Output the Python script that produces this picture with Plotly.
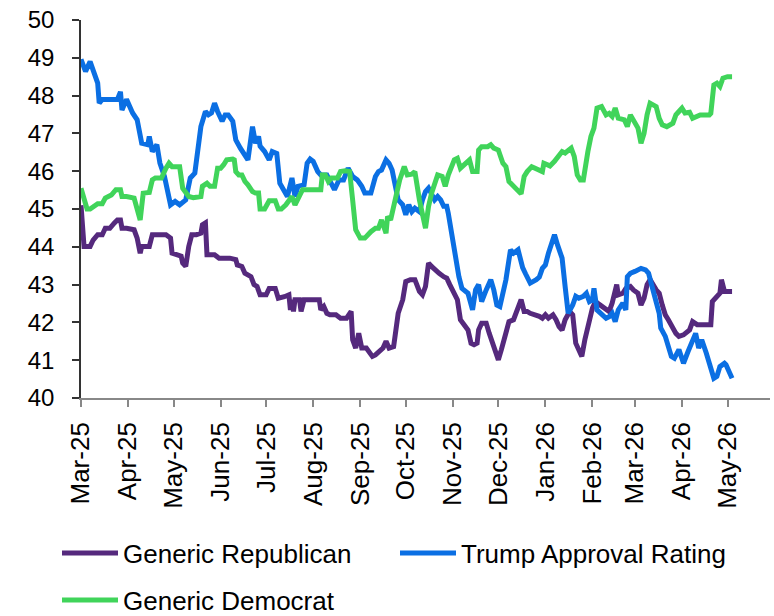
import plotly.graph_objects as go

# ---------------- data ----------------
month_ticks = ["2025-03-01", "2025-04-01", "2025-05-01", "2025-06-01", "2025-07-01",
               "2025-08-01", "2025-09-01", "2025-10-01", "2025-11-01", "2025-12-01",
               "2026-01-01", "2026-02-01", "2026-03-01", "2026-04-01", "2026-05-01"]
month_labels = ["Mar-25", "Apr-25", "May-25", "Jun-25", "Jul-25", "Aug-25", "Sep-25",
                "Oct-25", "Nov-25", "Dec-25", "Jan-26", "Feb-26", "Mar-26", "Apr-26", "May-26"]

rep_dates = [
    "2025-03-01", "2025-03-02", "2025-03-03", "2025-03-07", "2025-03-09", "2025-03-12", "2025-03-15",
    "2025-03-17", "2025-03-20", "2025-03-23", "2025-03-25", "2025-03-27", "2025-03-28", "2025-03-31",
    "2025-04-05", "2025-04-07", "2025-04-09", "2025-04-10", "2025-04-15", "2025-04-17", "2025-04-20",
    "2025-04-26", "2025-04-29", "2025-04-30", "2025-05-03", "2025-05-06", "2025-05-07", "2025-05-09",
    "2025-05-11", "2025-05-13", "2025-05-16", "2025-05-19", "2025-05-20", "2025-05-22", "2025-05-23",
    "2025-05-28", "2025-05-31", "2025-06-07", "2025-06-11", "2025-06-12", "2025-06-15", "2025-06-17",
    "2025-06-21", "2025-06-23", "2025-06-25", "2025-06-27", "2025-07-01", "2025-07-03", "2025-07-07",
    "2025-07-09", "2025-07-13", "2025-07-16", "2025-07-17", "2025-07-18", "2025-07-19", "2025-07-20",
    "2025-07-23", "2025-07-24", "2025-07-26", "2025-07-29", "2025-08-05", "2025-08-06", "2025-08-08",
    "2025-08-10", "2025-08-12", "2025-08-16", "2025-08-19", "2025-08-23", "2025-08-26", "2025-08-27",
    "2025-08-29", "2025-08-31", "2025-09-02", "2025-09-05", "2025-09-09", "2025-09-11", "2025-09-13",
    "2025-09-16", "2025-09-18", "2025-09-20", "2025-09-23", "2025-09-25", "2025-09-26", "2025-09-29",
    "2025-10-01", "2025-10-04", "2025-10-07", "2025-10-10", "2025-10-12", "2025-10-14", "2025-10-16",
    "2025-10-18", "2025-10-21", "2025-10-23", "2025-10-26", "2025-10-28", "2025-10-30", "2025-11-02",
    "2025-11-04", "2025-11-06", "2025-11-08", "2025-11-11", "2025-11-13", "2025-11-15", "2025-11-17",
    "2025-11-18", "2025-11-20", "2025-11-23", "2025-11-25", "2025-11-27", "2025-11-29", "2025-12-01",
    "2025-12-03", "2025-12-06", "2025-12-08", "2025-12-11", "2025-12-16", "2025-12-18", "2025-12-20",
    "2025-12-22", "2025-12-26", "2025-12-28", "2025-12-30", "2026-01-01", "2026-01-03", "2026-01-06",
    "2026-01-08", "2026-01-10", "2026-01-12", "2026-01-14", "2026-01-17", "2026-01-19", "2026-01-21",
    "2026-01-23", "2026-01-25", "2026-01-27", "2026-01-30", "2026-02-01", "2026-02-03", "2026-02-06",
    "2026-02-10", "2026-02-12", "2026-02-14", "2026-02-16", "2026-02-17", "2026-02-18", "2026-02-21",
    "2026-02-23", "2026-02-26", "2026-02-28", "2026-03-03", "2026-03-05", "2026-03-07", "2026-03-09",
    "2026-03-11", "2026-03-15", "2026-03-17", "2026-03-19", "2026-03-21", "2026-03-23", "2026-03-26",
    "2026-03-28", "2026-03-30", "2026-04-02", "2026-04-06", "2026-04-08", "2026-04-11", "2026-04-14",
    "2026-04-20", "2026-04-21", "2026-04-23", "2026-04-26", "2026-04-27", "2026-04-29", "2026-05-01",
    "2026-05-04"]
rep_vals = [
    45.10, 44.54, 44.01, 44.01, 44.18, 44.32, 44.32,
    44.49, 44.49, 44.63, 44.71, 44.71, 44.49, 44.49,
    44.45, 44.23, 43.83, 44.01, 44.01, 44.32, 44.32,
    44.32, 44.23, 43.83, 43.79, 43.75, 43.57, 43.48,
    44.01, 44.32, 44.32, 44.36, 44.58, 44.63, 43.79,
    43.79, 43.70, 43.70, 43.66, 43.52, 43.48, 43.30,
    43.21, 43.00, 42.95, 42.73, 42.73, 42.90, 42.90,
    42.64, 42.68, 42.73, 42.33, 42.60, 42.29, 42.60,
    42.60, 42.29, 42.60, 42.60, 42.60, 42.33, 42.42,
    42.24, 42.20, 42.20, 42.11, 42.11, 42.29, 41.54,
    41.32, 41.71, 41.32, 41.32, 41.10, 41.14, 41.23,
    41.32, 41.50, 41.32, 41.36, 42.07, 42.24, 42.60,
    43.08, 43.13, 43.13, 42.82, 42.73, 42.95, 43.57,
    43.48, 43.35, 43.30, 43.21, 43.17, 43.00, 42.77,
    42.60, 42.07, 41.94, 41.80, 41.45, 41.41, 41.45,
    41.80, 41.98, 41.98, 41.71, 41.45, 41.19, 41.01,
    41.28, 41.67, 42.02, 42.07, 42.60, 42.29, 42.29,
    42.24, 42.20, 42.16, 42.11, 42.20, 42.11, 42.20,
    42.07, 41.89, 41.80, 42.07, 42.29, 42.20, 41.45,
    41.28, 41.10, 41.54, 42.07, 42.38, 42.55, 42.46,
    42.38, 42.29, 42.51, 42.77, 43.00, 42.73, 42.77,
    42.90, 42.95, 42.86, 42.77, 42.46, 42.64, 43.00,
    43.13, 42.86, 42.77, 42.46, 42.20, 42.07, 41.85,
    41.71, 41.63, 41.67, 41.80, 42.02, 41.94, 41.94,
    41.94, 42.55, 42.64, 42.77, 43.13, 42.82, 42.82,
    42.82]

trump_dates = [
    "2025-03-01", "2025-03-04", "2025-03-07", "2025-03-10", "2025-03-12", "2025-03-13", "2025-03-15",
    "2025-03-25", "2025-03-27", "2025-03-28", "2025-03-31", "2025-04-04", "2025-04-07", "2025-04-10",
    "2025-04-14", "2025-04-15", "2025-04-17", "2025-04-20", "2025-04-22", "2025-04-25", "2025-04-29",
    "2025-05-02", "2025-05-05", "2025-05-09", "2025-05-12", "2025-05-15", "2025-05-19", "2025-05-22",
    "2025-05-24", "2025-05-26", "2025-05-28", "2025-05-30", "2025-06-02", "2025-06-04", "2025-06-06",
    "2025-06-09", "2025-06-11", "2025-06-14", "2025-06-17", "2025-06-19", "2025-06-22", "2025-06-24",
    "2025-06-26", "2025-06-27", "2025-06-30", "2025-07-03", "2025-07-05", "2025-07-08", "2025-07-10",
    "2025-07-15", "2025-07-18", "2025-07-20", "2025-07-22", "2025-07-26", "2025-07-28", "2025-07-30",
    "2025-08-01", "2025-08-04", "2025-08-06", "2025-08-10", "2025-08-15", "2025-08-18", "2025-08-21",
    "2025-08-24", "2025-08-27", "2025-08-30", "2025-09-02", "2025-09-04", "2025-09-08", "2025-09-11",
    "2025-09-13", "2025-09-15", "2025-09-18", "2025-09-20", "2025-09-22", "2025-09-24", "2025-09-26",
    "2025-09-29", "2025-10-01", "2025-10-03", "2025-10-05", "2025-10-07", "2025-10-10", "2025-10-12",
    "2025-10-14", "2025-10-16", "2025-10-18", "2025-10-20", "2025-10-22", "2025-10-24", "2025-10-26",
    "2025-10-28", "2025-10-29", "2025-11-01", "2025-11-03", "2025-11-05", "2025-11-07", "2025-11-11",
    "2025-11-14", "2025-11-16", "2025-11-18", "2025-11-20", "2025-11-23", "2025-11-26", "2025-11-28",
    "2025-11-30", "2025-12-02", "2025-12-06", "2025-12-09", "2025-12-11", "2025-12-14", "2025-12-17",
    "2025-12-19", "2025-12-22", "2025-12-26", "2025-12-28", "2025-12-30", "2026-01-01", "2026-01-03",
    "2026-01-07", "2026-01-09", "2026-01-12", "2026-01-14", "2026-01-16", "2026-01-19", "2026-01-21",
    "2026-01-23", "2026-01-26", "2026-01-28", "2026-01-30", "2026-02-01", "2026-02-02", "2026-02-04",
    "2026-02-07", "2026-02-10", "2026-02-12", "2026-02-14", "2026-02-16", "2026-02-18", "2026-02-21",
    "2026-02-23", "2026-02-24", "2026-02-26", "2026-03-01", "2026-03-05", "2026-03-08", "2026-03-10",
    "2026-03-14", "2026-03-17", "2026-03-18", "2026-03-21", "2026-03-25", "2026-03-27", "2026-03-30",
    "2026-04-02", "2026-04-05", "2026-04-08", "2026-04-10", "2026-04-12", "2026-04-14", "2026-04-17",
    "2026-04-19", "2026-04-22", "2026-04-24", "2026-04-26", "2026-04-29", "2026-04-30", "2026-05-02",
    "2026-05-04"]
trump_vals = [
    48.96, 48.64, 48.90, 48.60, 48.33, 47.80, 47.90,
    47.90, 48.10, 47.62, 47.90, 47.54, 47.36, 46.74,
    46.70, 46.92, 46.52, 46.70, 46.21, 45.86, 45.11,
    45.20, 45.11, 45.24, 45.82, 45.95, 47.18, 47.58,
    47.49, 47.54, 47.80, 47.58, 47.32, 47.49, 47.49,
    47.32, 46.83, 46.61, 46.43, 46.30, 47.18, 46.74,
    46.92, 46.66, 46.52, 46.30, 46.52, 46.47, 45.68,
    45.33, 45.82, 45.33, 45.60, 45.64, 46.21, 46.32,
    46.26, 45.99, 45.90, 45.90, 45.51, 45.77, 45.77,
    46.08, 45.86, 45.77, 45.60, 45.42, 45.42, 45.86,
    45.99, 46.03, 46.30, 46.21, 46.03, 45.55, 45.24,
    45.11, 44.85, 45.11, 44.93, 45.02, 44.93, 45.24,
    45.46, 45.55, 45.37, 45.24, 45.33, 45.24, 45.07,
    45.07, 44.89, 44.18, 43.56, 43.21, 42.90, 42.77,
    42.33, 42.86, 43.00, 42.55, 42.86, 43.13, 42.86,
    42.46, 42.42, 43.13, 43.92, 43.83, 43.92, 43.45,
    43.28, 43.04, 43.13, 43.20, 43.43, 43.52, 43.83,
    44.32, 44.05, 43.70, 42.95, 42.24, 42.46, 42.69,
    42.64, 42.69, 42.77, 42.55, 42.60, 42.90, 42.33,
    42.20, 42.11, 42.15, 42.24, 42.02, 42.33, 42.51,
    42.33, 43.21, 43.30, 43.35, 43.43, 43.39, 43.30,
    42.69, 42.24, 41.85, 41.63, 41.10, 41.05, 41.28,
    40.92, 41.23, 41.54, 41.71, 41.32, 41.54, 41.19,
    40.92, 40.52, 40.57, 40.83, 40.92, 40.88, 40.70,
    40.52]

dem_dates = [
    "2025-03-01", "2025-03-03", "2025-03-05", "2025-03-07", "2025-03-09", "2025-03-12", "2025-03-15",
    "2025-03-17", "2025-03-19", "2025-03-21", "2025-03-24", "2025-03-27", "2025-03-28", "2025-03-31",
    "2025-04-05", "2025-04-07", "2025-04-09", "2025-04-10", "2025-04-11", "2025-04-15", "2025-04-17",
    "2025-04-19", "2025-04-23", "2025-04-26", "2025-04-28", "2025-04-30", "2025-05-03", "2025-05-05",
    "2025-05-07", "2025-05-09", "2025-05-11", "2025-05-14", "2025-05-19", "2025-05-20", "2025-05-23",
    "2025-05-25", "2025-05-28", "2025-05-30", "2025-06-01", "2025-06-03", "2025-06-05", "2025-06-09",
    "2025-06-10", "2025-06-11", "2025-06-13", "2025-06-15", "2025-06-17", "2025-06-19", "2025-06-22",
    "2025-06-24", "2025-06-26", "2025-06-27", "2025-06-30", "2025-07-03", "2025-07-07", "2025-07-09",
    "2025-07-11", "2025-07-14", "2025-07-16", "2025-07-18", "2025-07-20", "2025-07-22", "2025-07-25",
    "2025-07-30", "2025-08-06", "2025-08-07", "2025-08-09", "2025-08-11", "2025-08-13", "2025-08-17",
    "2025-08-19", "2025-08-22", "2025-08-25", "2025-08-27", "2025-08-29", "2025-09-01", "2025-09-04",
    "2025-09-08", "2025-09-11", "2025-09-13", "2025-09-15", "2025-09-18", "2025-09-19", "2025-09-21",
    "2025-09-23", "2025-09-25", "2025-09-27", "2025-09-30", "2025-10-02", "2025-10-05", "2025-10-07",
    "2025-10-10", "2025-10-12", "2025-10-14", "2025-10-16", "2025-10-18", "2025-10-22", "2025-10-25",
    "2025-10-27", "2025-10-29", "2025-11-02", "2025-11-04", "2025-11-06", "2025-11-09", "2025-11-12",
    "2025-11-14", "2025-11-17", "2025-11-18", "2025-11-20", "2025-11-24", "2025-11-26", "2025-11-28",
    "2025-12-01", "2025-12-04", "2025-12-06", "2025-12-08", "2025-12-10", "2025-12-13", "2025-12-16",
    "2025-12-18", "2025-12-20", "2025-12-23", "2025-12-27", "2025-12-30", "2025-12-31", "2026-01-02",
    "2026-01-04", "2026-01-07", "2026-01-10", "2026-01-12", "2026-01-14", "2026-01-18", "2026-01-20",
    "2026-01-22", "2026-01-24", "2026-01-26", "2026-01-29", "2026-01-31", "2026-02-02", "2026-02-04",
    "2026-02-07", "2026-02-10", "2026-02-12", "2026-02-14", "2026-02-16", "2026-02-18", "2026-02-22",
    "2026-02-24", "2026-02-26", "2026-02-28", "2026-03-03", "2026-03-05", "2026-03-07", "2026-03-09",
    "2026-03-11", "2026-03-15", "2026-03-17", "2026-03-19", "2026-03-22", "2026-03-26", "2026-03-28",
    "2026-03-30", "2026-04-01", "2026-04-03", "2026-04-06", "2026-04-08", "2026-04-10", "2026-04-13",
    "2026-04-19", "2026-04-20", "2026-04-22", "2026-04-24", "2026-04-26", "2026-04-28", "2026-05-01",
    "2026-05-04"]
dem_vals = [
    45.55, 45.24, 45.00, 45.00, 45.07, 45.14, 45.14,
    45.29, 45.33, 45.37, 45.51, 45.51, 45.33, 45.33,
    45.29, 45.02, 44.71, 45.07, 45.42, 45.44, 45.77,
    45.82, 45.82, 46.08, 46.21, 46.12, 46.12, 46.12,
    45.55, 45.46, 45.33, 45.30, 45.33, 45.60, 45.68,
    45.60, 45.60, 46.08, 46.08, 46.17, 46.30, 46.32,
    46.30, 45.99, 45.90, 45.90, 45.73, 45.64, 45.46,
    45.42, 45.42, 45.00, 45.00, 45.22, 45.22, 45.00,
    45.00, 45.11, 45.20, 45.33, 45.11, 45.29, 45.51,
    45.51, 45.51, 45.90, 45.90, 45.73, 45.82, 45.82,
    45.99, 46.01, 45.99, 45.24, 44.45, 44.23, 44.23,
    44.40, 44.49, 44.49, 44.71, 44.36, 44.80, 44.71,
    45.07, 45.46, 45.77, 46.12, 45.90, 45.92, 45.99,
    45.24, 44.80, 44.49, 45.07, 45.42, 45.90, 45.86,
    45.60, 45.90, 46.30, 46.34, 46.08, 46.17, 46.30,
    45.99, 45.99, 46.56, 46.65, 46.65, 46.70, 46.61,
    46.56, 46.21, 46.12, 45.73, 45.64, 45.51, 45.40,
    45.86, 45.99, 46.12, 46.05, 45.99, 46.21, 46.17,
    46.14, 46.26, 46.43, 46.52, 46.48, 46.61, 46.39,
    45.90, 45.77, 45.77, 46.52, 46.92, 47.14, 47.67,
    47.71, 47.49, 47.53, 47.45, 47.67, 47.40, 47.36,
    47.18, 47.49, 47.32, 47.14, 46.74, 47.00, 47.49,
    47.80, 47.71, 47.40, 47.23, 47.18, 47.27, 47.49,
    47.58, 47.67, 47.54, 47.56, 47.40, 47.45, 47.49,
    47.49, 47.53, 48.28, 48.33, 48.24, 48.46, 48.50,
    48.50]

# ---------------- figure ----------------
FONT = "Liberation Sans, Arial, sans-serif"
fig = go.Figure()
fig.add_trace(go.Scatter(x=rep_dates, y=rep_vals, name="Generic Republican", mode="lines",
                         line=dict(color="#55297D", width=5), legend="legend", showlegend=True))
fig.add_trace(go.Scatter(x=trump_dates, y=trump_vals, name="Trump Approval Rating", mode="lines",
                         line=dict(color="#0B6FE3", width=5), legend="legend2", showlegend=True))
fig.add_trace(go.Scatter(x=dem_dates, y=dem_vals, name="Generic Democrat", mode="lines",
                         line=dict(color="#40D45A", width=5), legend="legend3", showlegend=True))

legend_common = dict(orientation="h", xref="container", yref="container",
                     xanchor="left", yanchor="middle", font=dict(size=26),
                     itemwidth=56, bgcolor="rgba(0,0,0,0)", visible=True)

fig.update_layout(
    width=774, height=616,
    showlegend=True,
    margin=dict(l=81, r=4, t=20, b=218),
    plot_bgcolor="white", paper_bgcolor="white",
    font=dict(family=FONT, color="black"),
    xaxis=dict(type="date", range=["2025-03-01", "2026-05-29"],
               tickvals=month_ticks, ticktext=month_labels, tickangle=-90,
               ticks="outside", ticklen=7, tickcolor="#888888", tickwidth=1.5,
               showline=True, linecolor="#888888", linewidth=1.5, automargin=False,
               showgrid=False, zeroline=False, tickfont=dict(size=26, color="black"),
               ticklabelstandoff=5),
    yaxis=dict(range=[40, 50], dtick=1, ticks="outside", ticklen=7, tickcolor="#333333",
               tickwidth=1.5, showline=True, linecolor="#333333", linewidth=1.5,
               automargin=False, showgrid=False, zeroline=False,
               tickfont=dict(size=24, color="black"), ticklabelstandoff=13),
    legend=dict(x=57 / 774, y=1 - 553 / 616, **legend_common),
    legend2=dict(x=395 / 774, y=1 - 553 / 616, **legend_common),
    legend3=dict(x=57 / 774, y=1 - 600 / 616, **legend_common),
)

fig.write_html("out.html", config={"displayModeBar": False},
               post_script="document.body.style.margin='0px';")
